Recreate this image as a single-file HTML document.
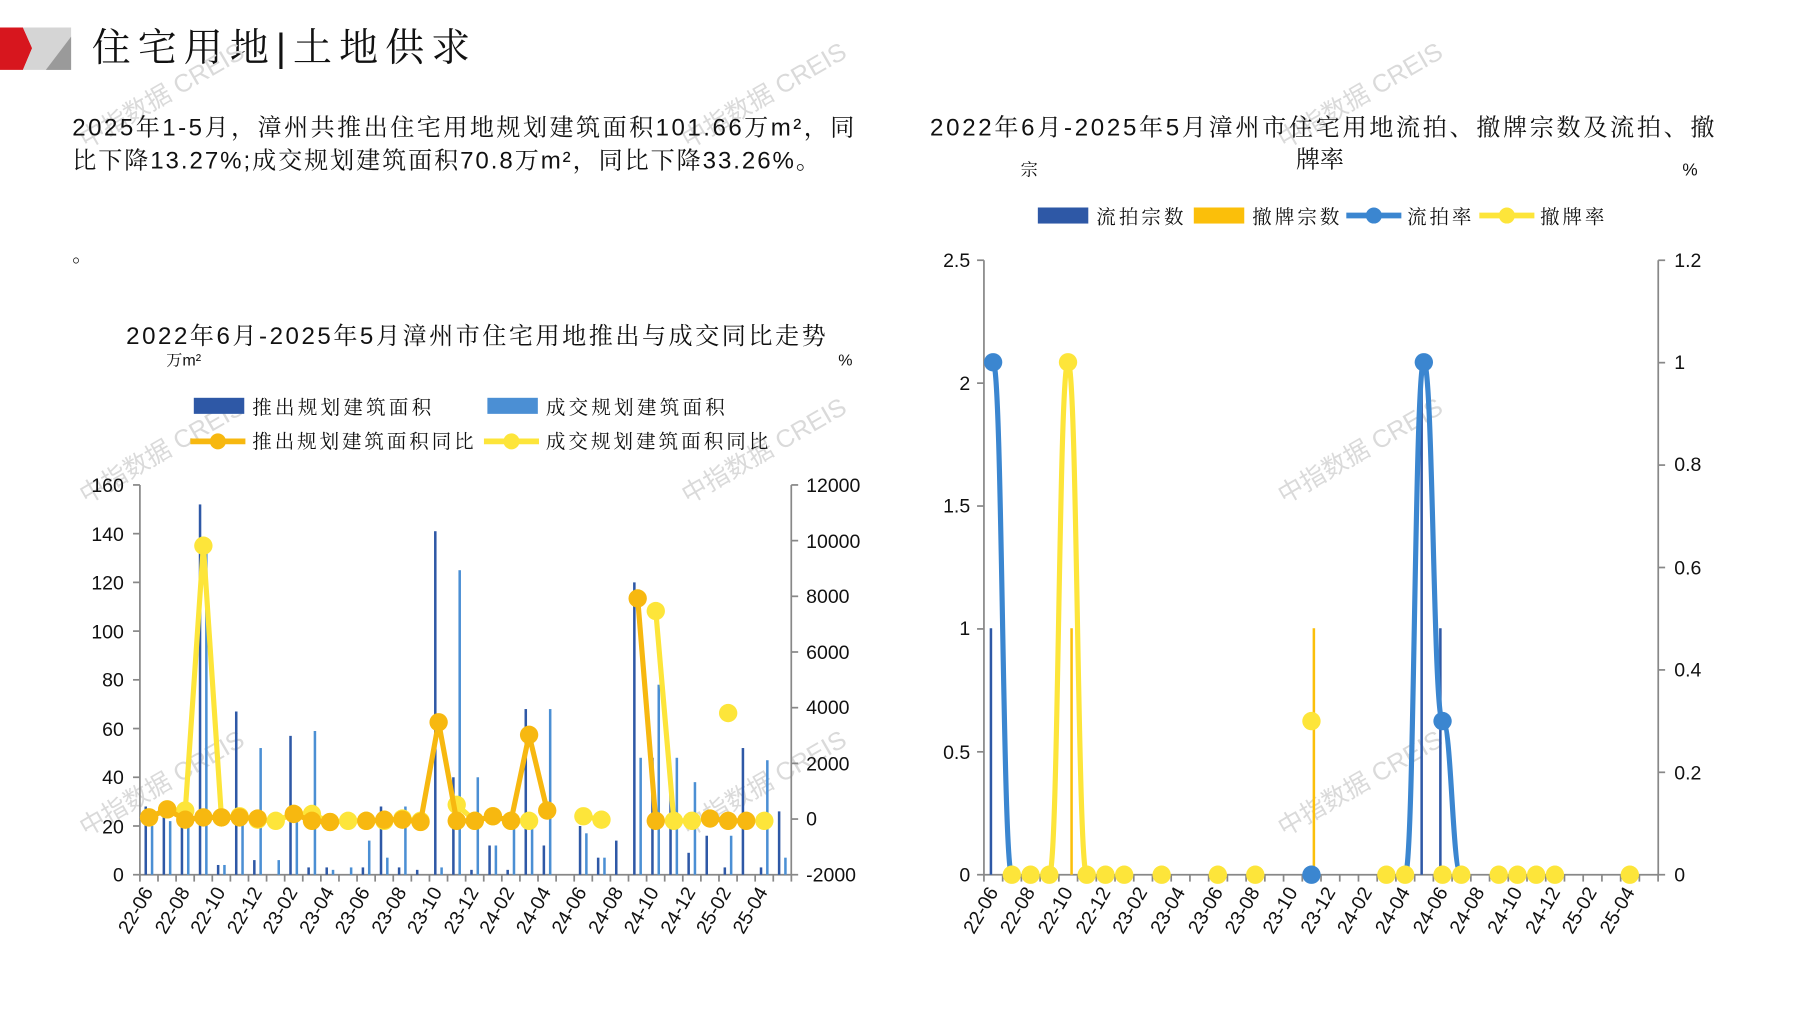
<!DOCTYPE html>
<html><head><meta charset="utf-8"><style>
html,body{margin:0;padding:0;background:#fff;width:1797px;height:1010px;overflow:hidden}
svg{display:block}
text{font-family:"Liberation Sans","Noto Serif CJK SC",serif;fill:#111}
.ax{font-size:17px}
.wm{font-family:"Liberation Sans","Noto Sans CJK SC",sans-serif;font-size:22px;fill:#dadada}
</style></head><body>
<svg id="s" width="1797" height="1010" viewBox="0 0 1567 881" preserveAspectRatio="none" xmlns="http://www.w3.org/2000/svg">
<polygon points="0,24 20,24 28,42 20,61 0,61" fill="#d7161e"/>
<polygon points="20,24 62,24 62,61 20,61 28,42" fill="#d5d5d5"/>
<polygon points="62,32 62,61 40,61" fill="#9a9a9a"/>
<text x="80" y="53" style="font-size:34px" textLength="330" lengthAdjust="spacing">住宅用地|土地供求</text>
<g>
<text class="wm" transform="translate(75,130) rotate(-30)">中指数据 CREIS</text>
<text class="wm" transform="translate(600,130) rotate(-30)">中指数据 CREIS</text>
<text class="wm" transform="translate(1120,130) rotate(-30)">中指数据 CREIS</text>
<text class="wm" transform="translate(75,440) rotate(-30)">中指数据 CREIS</text>
<text class="wm" transform="translate(600,440) rotate(-30)">中指数据 CREIS</text>
<text class="wm" transform="translate(1120,440) rotate(-30)">中指数据 CREIS</text>
<text class="wm" transform="translate(75,730) rotate(-30)">中指数据 CREIS</text>
<text class="wm" transform="translate(600,730) rotate(-30)">中指数据 CREIS</text>
<text class="wm" transform="translate(1120,730) rotate(-30)">中指数据 CREIS</text>
</g>
<text x="63" y="118" style="font-size:21px" textLength="682" lengthAdjust="spacing">2025年1-5月，漳州共推出住宅用地规划建筑面积101.66万m²，同</text>
<text x="63" y="147" style="font-size:21px" textLength="652" lengthAdjust="spacing">比下降13.27%;成交规划建筑面积70.8万m²，同比下降33.26%。</text>
<text x="63" y="228" style="font-size:18px">。</text>

<text x="110" y="300" style="font-size:21px" textLength="610" lengthAdjust="spacing">2022年6月-2025年5月漳州市住宅用地推出与成交同比走势</text>
<text x="145" y="319" style="font-size:14px">万m²</text>
<text x="731" y="319" style="font-size:14px">%</text>
<rect x="169" y="347" width="44" height="14" fill="#2e58a6"/>
<text x="220" y="361" style="font-size:17px" textLength="156" lengthAdjust="spacing">推出规划建筑面积</text>
<rect x="425" y="347" width="44" height="14" fill="#4b8fd4"/>
<text x="476" y="361" style="font-size:17px" textLength="156" lengthAdjust="spacing">成交规划建筑面积</text>
<line x1="166" y1="385" x2="214" y2="385" stroke="#f7b810" stroke-width="5"/><circle cx="190" cy="385" r="7" fill="#f7b810"/>
<text x="220" y="391" style="font-size:17px" textLength="193" lengthAdjust="spacing">推出规划建筑面积同比</text>
<line x1="422" y1="385" x2="470" y2="385" stroke="#fde53a" stroke-width="5"/><circle cx="446" cy="385" r="7" fill="#fde53a"/>
<text x="476" y="391" style="font-size:17px" textLength="194" lengthAdjust="spacing">成交规划建筑面积同比</text>
<g stroke="#888" stroke-width="1.5">
<line x1="122" y1="423" x2="122" y2="763"/><line x1="690" y1="423" x2="690" y2="763"/><line x1="122" y1="763" x2="690" y2="763"/>
</g>
<g id="lt" stroke="#888" stroke-width="1.5"></g>
<g class="ax" text-anchor="end">
<text x="108" y="429">160</text><text x="108" y="472">140</text><text x="108" y="514">120</text><text x="108" y="557">100</text><text x="108" y="599">80</text><text x="108" y="642">60</text><text x="108" y="684">40</text><text x="108" y="727">20</text><text x="108" y="769">0</text>
</g>
<g class="ax" text-anchor="start">
<text x="703" y="429">12000</text><text x="703" y="478">10000</text><text x="703" y="526">8000</text><text x="703" y="575">6000</text><text x="703" y="623">4000</text><text x="703" y="672">2000</text><text x="703" y="720">0</text><text x="703" y="769">-2000</text>
</g>
<g class="ax" text-anchor="end">
<text transform="translate(134,778) rotate(-60)">22-06</text><text transform="translate(166,778) rotate(-60)">22-08</text><text transform="translate(197,778) rotate(-60)">22-10</text><text transform="translate(229,778) rotate(-60)">22-12</text><text transform="translate(260,778) rotate(-60)">23-02</text><text transform="translate(292,778) rotate(-60)">23-04</text><text transform="translate(323,778) rotate(-60)">23-06</text><text transform="translate(355,778) rotate(-60)">23-08</text><text transform="translate(386,778) rotate(-60)">23-10</text><text transform="translate(418,778) rotate(-60)">23-12</text><text transform="translate(449,778) rotate(-60)">24-02</text><text transform="translate(481,778) rotate(-60)">24-04</text><text transform="translate(512,778) rotate(-60)">24-06</text><text transform="translate(544,778) rotate(-60)">24-08</text><text transform="translate(575,778) rotate(-60)">24-10</text><text transform="translate(607,778) rotate(-60)">24-12</text><text transform="translate(638,778) rotate(-60)">25-02</text><text transform="translate(670,778) rotate(-60)">25-04</text>
</g>
<g id="lb"></g>

<text x="811" y="118" style="font-size:21px" textLength="684" lengthAdjust="spacing">2022年6月-2025年5月漳州市住宅用地流拍、撤牌宗数及流拍、撤</text>
<text x="1130" y="146" style="font-size:21px">牌率</text>
<text x="890" y="153" style="font-size:15px">宗</text>
<text x="1467" y="153" style="font-size:15px">%</text>
<rect x="905" y="181" width="44" height="14" fill="#2e58a6"/>
<text x="956" y="195" style="font-size:17px" textLength="76" lengthAdjust="spacing">流拍宗数</text>
<rect x="1041" y="181" width="44" height="14" fill="#fbbf0a"/>
<text x="1092" y="195" style="font-size:17px" textLength="76" lengthAdjust="spacing">撤牌宗数</text>
<line x1="1174" y1="188" x2="1222" y2="188" stroke="#3b86d0" stroke-width="5"/><circle cx="1198" cy="188" r="7" fill="#3b86d0"/>
<text x="1227" y="195" style="font-size:17px" textLength="56" lengthAdjust="spacing">流拍率</text>
<line x1="1290" y1="188" x2="1338" y2="188" stroke="#fde53a" stroke-width="5"/><circle cx="1314" cy="188" r="7" fill="#fde53a"/>
<text x="1343" y="195" style="font-size:17px" textLength="56" lengthAdjust="spacing">撤牌率</text>
<g stroke="#888" stroke-width="1.5">
<line x1="858" y1="227" x2="858" y2="763"/><line x1="1446" y1="227" x2="1446" y2="763"/><line x1="858" y1="763" x2="1446" y2="763"/>
</g>
<g id="rt" stroke="#888" stroke-width="1.5"></g>
<g class="ax" text-anchor="end">
<text x="846" y="233">2.5</text><text x="846" y="340">2</text><text x="846" y="447">1.5</text><text x="846" y="554">1</text><text x="846" y="662">0.5</text><text x="846" y="769">0</text>
</g>
<g class="ax" text-anchor="start">
<text x="1460" y="233">1.2</text><text x="1460" y="322">1</text><text x="1460" y="411">0.8</text><text x="1460" y="501">0.6</text><text x="1460" y="590">0.4</text><text x="1460" y="680">0.2</text><text x="1460" y="769">0</text>
</g>
<g class="ax" text-anchor="end">
<text transform="translate(871,778) rotate(-60)">22-06</text><text transform="translate(903,778) rotate(-60)">22-08</text><text transform="translate(936,778) rotate(-60)">22-10</text><text transform="translate(969,778) rotate(-60)">22-12</text><text transform="translate(1001,778) rotate(-60)">23-02</text><text transform="translate(1034,778) rotate(-60)">23-04</text><text transform="translate(1067,778) rotate(-60)">23-06</text><text transform="translate(1099,778) rotate(-60)">23-08</text><text transform="translate(1132,778) rotate(-60)">23-10</text><text transform="translate(1165,778) rotate(-60)">23-12</text><text transform="translate(1197,778) rotate(-60)">24-02</text><text transform="translate(1230,778) rotate(-60)">24-04</text><text transform="translate(1263,778) rotate(-60)">24-06</text><text transform="translate(1295,778) rotate(-60)">24-08</text><text transform="translate(1328,778) rotate(-60)">24-10</text><text transform="translate(1361,778) rotate(-60)">24-12</text><text transform="translate(1393,778) rotate(-60)">25-02</text><text transform="translate(1426,778) rotate(-60)">25-04</text>
</g>
<g id="rb"></g>
</svg>
<script>
var NS="http://www.w3.org/2000/svg";
function el(p,t,a){var e=document.createElementNS(NS,t);for(var k in a)e.setAttribute(k,a[k]);p.appendChild(e);return e;}
var lt=document.getElementById('lt');
for(var i=0;i<=8;i++){var y=763-i*42.5;el(lt,'line',{x1:116,y1:y,x2:122,y2:y});}
for(var i=0;i<=7;i++){var y=763-i*48.57;el(lt,'line',{x1:690,y1:y,x2:696,y2:y});}
for(var i=0;i<=36;i++){var x=122+i*15.78;el(lt,'line',{x1:x,y1:763,x2:x,y2:769});}
var lb=document.getElementById('lb');
var D=[28,25,20,152,4,67,6,0,57,3,3,0,3,28,3,2,141,40,2,12,2,68,12,0,20,7,14,120,48,38,9,16,3,52,3,26];
var L=[20,22,25,135,4,25,52,6,22,59,2,3,14,7,28,0,3,125,40,12,20,20,68,0,17,7,0,48,78,48,38,0,16,0,47,7];
for(var i=0;i<36;i++){var c=130+15.78*i;
 if(D[i]>0)el(lb,'rect',{x:c-4,y:763-D[i]*2.125,width:2.2,height:D[i]*2.125,fill:'#2e58a6'});
 if(L[i]>0)el(lb,'rect',{x:c+1.5,y:763-L[i]*2.125,width:2.2,height:L[i]*2.125,fill:'#4b8fd4'});}
function series(g,pts,col,xf){
 var segs=[],cur=[];
 pts.forEach(function(p,i){if(p==null){if(cur.length)segs.push(cur);cur=[];}else cur.push([xf(i),p]);});
 if(cur.length)segs.push(cur);
 segs.forEach(function(s){if(s.length>1)el(g,'polyline',{points:s.map(function(q){return q.join(',')}).join(' '),fill:'none',stroke:col,'stroke-width':4.5,'stroke-linejoin':'round'});});
 segs.forEach(function(s){s.forEach(function(q){el(g,'circle',{cx:q[0],cy:q[1],r:8,fill:col});});});
}
var lx=function(i){return 130+15.78*i;};
var Y=[713,706,707,476,713,712,715,716,710,710,717,716,716,716,714,716,null,702,716,712,716,716,null,null,712,715,null,null,533,716,716,null,null,null,716,null];
series(lb,Y,'#fde53a',lx);
el(lb,'circle',{cx:lx(32),cy:622,r:8,fill:'#fde53a'});
var O=[713,706,715,713,713,713,714,null,710,716,717,null,716,715,715,717,630,716,716,712,716,641,707,null,null,null,null,522,716,null,null,714,716,716,null,null];
series(lb,O,'#f7b810',lx);
var rt=document.getElementById('rt');
for(var i=0;i<=5;i++){var y=763-i*107.2;el(rt,'line',{x1:852,y1:y,x2:858,y2:y});}
for(var i=0;i<=6;i++){var y=763-i*89.33;el(rt,'line',{x1:1446,y1:y,x2:1452,y2:y});}
for(var i=0;i<=36;i++){var x=858+i*16.33;el(rt,'line',{x1:x,y1:763,x2:x,y2:769});}
var rb=document.getElementById('rb');
var rx=function(i){return 866+16.33*i;};
el(rb,'rect',{x:rx(0)-3,y:548,width:2.2,height:215,fill:'#2e58a6'});
el(rb,'rect',{x:rx(23)-3,y:316,width:2.2,height:447,fill:'#2e58a6'});
el(rb,'rect',{x:rx(24)-3,y:548,width:2.2,height:215,fill:'#2e58a6'});
el(rb,'rect',{x:rx(4)+2,y:548,width:2.2,height:215,fill:'#fbbf0a'});
el(rb,'rect',{x:rx(17)+1,y:548,width:2.2,height:215,fill:'#fbbf0a'});
function curve(pts,col){var d='M'+pts[0][0]+','+pts[0][1];
 for(var i=1;i<pts.length;i++){var a=pts[i-1],b=pts[i],m=(b[0]-a[0])/2;d+=' C'+(a[0]+m)+','+a[1]+' '+(b[0]-m)+','+b[1]+' '+b[0]+','+b[1];}
 el(rb,'path',{d:d,fill:'none',stroke:col,'stroke-width':4.5});}
curve([[rx(0),316],[rx(1),763]],'#3b86d0');
curve([[rx(22),763],[rx(23),316],[rx(24),629],[rx(25),763]],'#3b86d0');
curve([[rx(3),763],[rx(4),316],[rx(5),763]],'#fde53a');
[0,23,24,17].forEach(function(i){var y=i==24?629:(i==17?763:316);el(rb,'circle',{cx:rx(i),cy:y,r:8,fill:'#3b86d0'});});
[1,2,3,5,6,7,9,12,14,21,22,24,25,27,28,29,30,34].forEach(function(i){el(rb,'circle',{cx:rx(i),cy:763,r:8,fill:'#fde53a'});});
el(rb,'circle',{cx:rx(4),cy:316,r:8,fill:'#fde53a'});
el(rb,'circle',{cx:rx(17),cy:629,r:8,fill:'#fde53a'});
</script>
</body></html>
